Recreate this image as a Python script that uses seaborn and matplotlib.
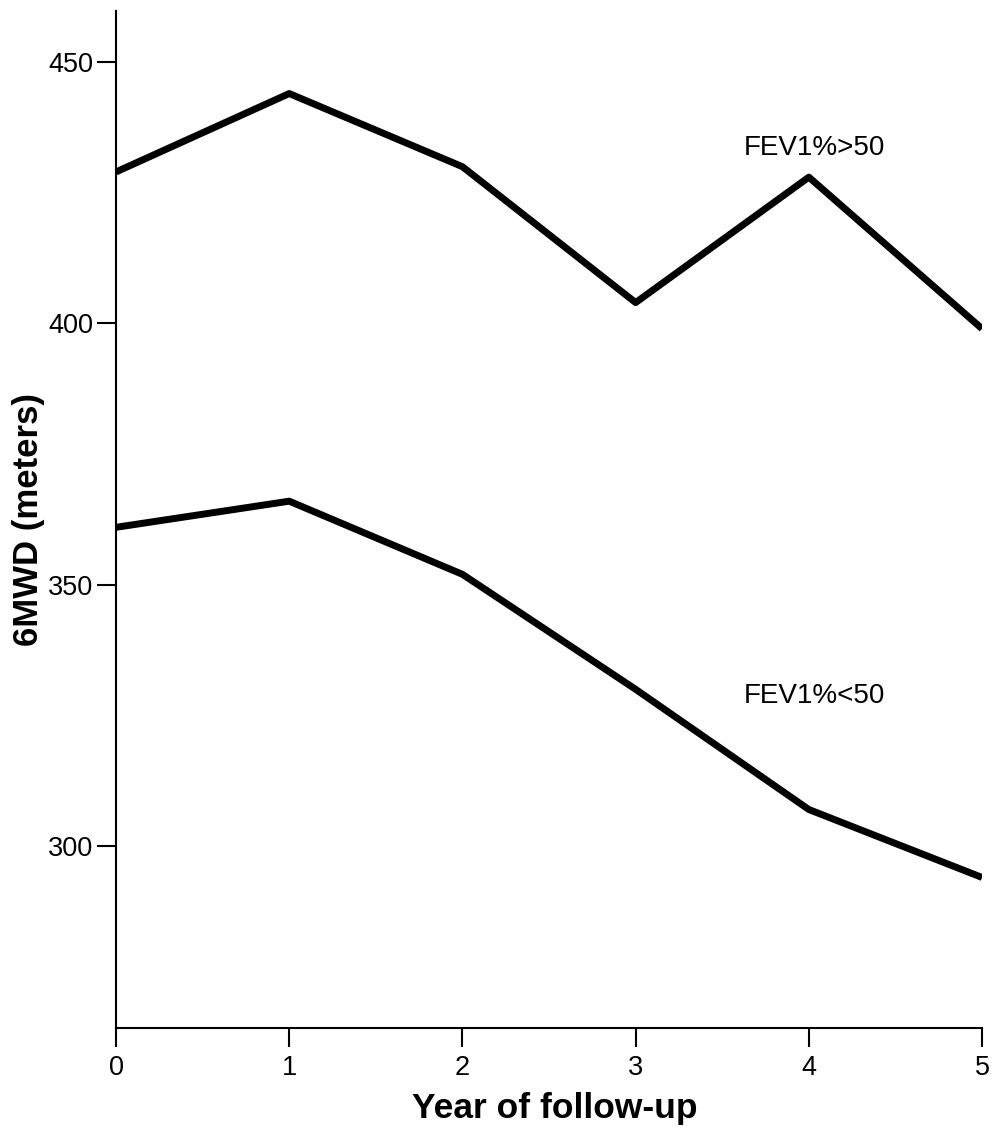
import pandas as pd
import seaborn as sns
import matplotlib.pyplot as plt

# Datos
years = [0, 1, 2, 3, 4, 5]
fev_high = [429, 444, 430, 404, 428, 399]
fev_low = [361, 366, 352, 330, 307, 294]
groups = ["FEV1%>50", "FEV1%<50"]

df = pd.DataFrame({
    "year": years * 2,
    "mwd": fev_high + fev_low,
    "group": [groups[0]] * len(years) + [groups[1]] * len(years),
})

sns.set_style("ticks")
plt.rcParams['font.family'] = ['Liberation Sans', 'DejaVu Sans']
plt.rcParams['text.color'] = 'black'
plt.rcParams['axes.labelcolor'] = 'black'
plt.rcParams['xtick.color'] = 'black'
plt.rcParams['ytick.color'] = 'black'

fig = plt.figure(figsize=(9.97, 11.31), dpi=100)
ax = fig.add_axes([0.1164, 0.0911, 0.8686, 0.8992])

sns.lineplot(data=df, x="year", y="mwd", hue="group", palette=["black", "black"],
             linewidth=5, legend=False, ax=ax, solid_capstyle="butt")

ax.set_xlim(0, 5)
ax.set_ylim(265.2, 459.8)
ax.set_xticks(years)
ax.set_yticks([300, 350, 400, 450])
ax.tick_params(axis="both", length=13.5, width=1.5, labelsize=19.5)
ax.tick_params(axis="x", pad=6)
ax.tick_params(axis="y", pad=3)

for s in ["top", "right"]:
    ax.spines[s].set_visible(False)
for s in ["left", "bottom"]:
    ax.spines[s].set_linewidth(1.5)
    ax.spines[s].set_color("black")

ax.set_xlabel("Year of follow-up", fontsize=25.5, fontweight="bold", labelpad=8)
ax.xaxis.label.set_x(0.507)
ax.set_ylabel("6MWD (meters)", fontsize=25, fontweight="bold", labelpad=2)

# etiquetas de cada curva
ax.text(4.03, 433.5, groups[0], fontsize=20, ha="center", va="center")
ax.text(4.03, 328.8, groups[1], fontsize=20, ha="center", va="center")

fig.savefig("out.png", dpi=100)
